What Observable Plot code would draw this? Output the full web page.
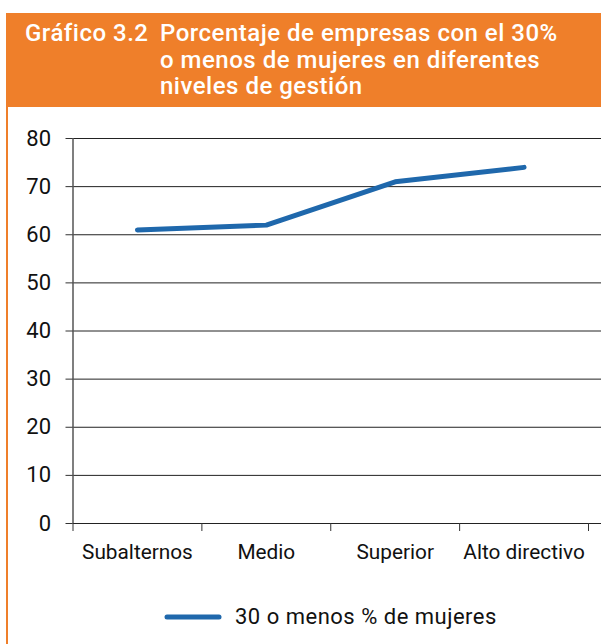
<!DOCTYPE html>
<html>
<head>
<meta charset="utf-8">
<script src="https://cdn.jsdelivr.net/npm/d3@7"></script>
<script src="https://cdn.jsdelivr.net/npm/@observablehq/plot@0.6"></script>
<style>
  html, body { margin: 0; padding: 0; background: #fff; }
  #wrap { position: relative; width: 601px; height: 644px; overflow: hidden; font-family: Roboto, "Noto Sans", sans-serif; }
  #header { position: absolute; left: 6px; top: 13px; width: 595px; height: 94px; background: #EF7F2A; color: #fff; }
  #header .num { position: absolute; left: 19px; top: 7px; font-size: 24px; line-height: 26.7px; font-weight: 500; letter-spacing: 0.5px; white-space: nowrap; }
  #header .txt { position: absolute; left: 154px; top: 7px; font-size: 24px; line-height: 26.7px; font-weight: 500; letter-spacing: 0.5px; white-space: nowrap; }
  #border { position: absolute; left: 6px; top: 107px; width: 2px; height: 537px; background: #EF7F2A; }
  #chart { position: absolute; left: 0; top: 107px; }
  #legend { position: absolute; left: 0; top: 600px; width: 601px; height: 34px; }
  #legend svg { position: absolute; left: 160px; top: 0; }
  #legend span { position: absolute; left: 235px; top: 4px; font-size: 22px; line-height: 26px; letter-spacing: 0.5px; color: #111; white-space: nowrap; }
</style>
</head>
<body>
<div id="wrap">
  <div id="header"><div class="num"></div><div class="txt"></div></div>
  <div id="border"></div>
  <div id="chart"></div>
  <div id="legend"></div>
</div>
<script>
const chartNumber = "Gráfico 3.2";
const titleLines = ["Porcentaje de empresas con el 30%", "o menos de mujeres en diferentes", "niveles de gestión"];
const categories = ["Subalternos", "Medio", "Superior", "Alto directivo"];
const values = [61, 62, 71, 74];
const yTicks = [0, 10, 20, 30, 40, 50, 60, 70, 80];
const seriesName = "30 o menos % de mujeres";
const lineColor = "#1F68AC";

document.querySelector("#header .num").textContent = chartNumber;
document.querySelector("#header .txt").innerHTML = titleLines.map(t => `<div>${t}</div>`).join("");

const data = categories.map((c, i) => ({i, c, v: values[i]}));
const boundaries = d3.range(categories.length + 1).map(i => i - 0.5);

const plot = Plot.plot({
  width: 601,
  height: 470,
  marginTop: 31,
  marginBottom: 54,
  marginLeft: 72.5,
  marginRight: 0,
  style: {fontFamily: "Roboto, 'Noto Sans', sans-serif", fontSize: "21px", color: "#111", background: "transparent"},
  x: {domain: [-0.5, categories.length - 0.5], range: [72.5, 588]},
  y: {domain: [0, 80]},
  marks: [
    Plot.gridY(yTicks, {stroke: "#222", strokeOpacity: 1, strokeWidth: 1}),
    Plot.ruleX([-0.5], {y1: 0, y2: 80, stroke: "#555", strokeWidth: 1.5}),
    Plot.axisY(yTicks, {tickSize: 7, tickPadding: 15, stroke: "#333", fontSize: 22, tickFormat: d => String(d), label: null}),
    Plot.axisX(boundaries, {tickSize: 8, stroke: "#333", tickFormat: () => "", label: null}),
    Plot.axisX(d3.range(categories.length), {tickSize: 0, tickPadding: 21, tickFormat: i => categories[i], label: null, fontSize: 20.8}),
    Plot.line(data, {x: "i", y: "v", stroke: lineColor, strokeWidth: 5, curve: "linear", strokeLinecap: "round", strokeLinejoin: "round"})
  ]
});
document.getElementById("chart").appendChild(plot);

const legend = document.getElementById("legend");
legend.innerHTML = `<svg width="70" height="34"><line x1="7" y1="17" x2="59" y2="17" stroke="${lineColor}" stroke-width="5" stroke-linecap="round"/></svg><span></span>`;
legend.querySelector("span").textContent = seriesName;
</script>
</body>
</html>
